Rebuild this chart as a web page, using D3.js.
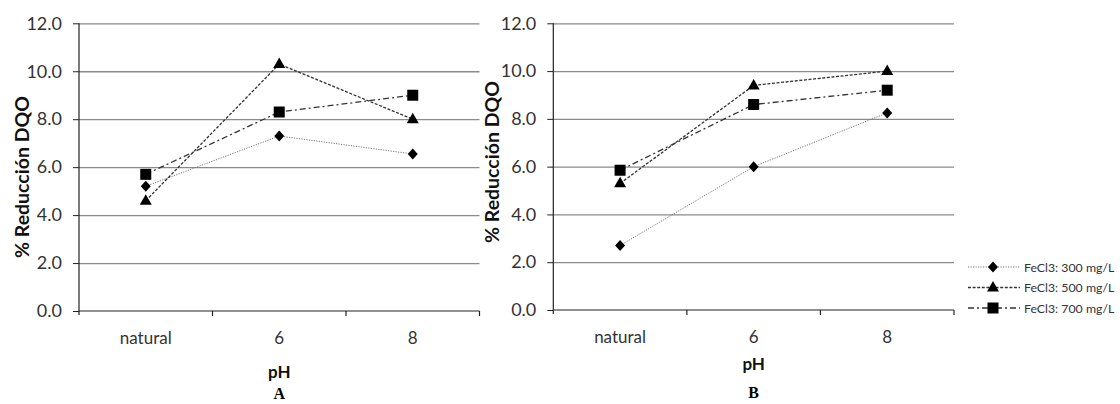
<!DOCTYPE html>
<html>
<head>
<meta charset="utf-8">
<script src="https://cdn.jsdelivr.net/npm/d3@7"></script>
<style>
  html, body { margin: 0; padding: 0; background: #fff; }
  svg { display: block; }
</style>
</head>
<body>
<svg id="chart" width="1120" height="404"></svg>
<script>
// pH conditions on the x axis
const categories = ["natural", "6", "8"];
// y axis ticks
const yTicks = [0, 2, 4, 6, 8, 10, 12];
// series labels
const seriesNames = ["FeCl3: 300 mg/L", "FeCl3: 500 mg/L", "FeCl3: 700 mg/L"];
// Panel A: % COD reduction per dose
const panelA300 = [5.2, 7.3, 6.55];
const panelA500 = [4.6, 10.3, 8.0];
const panelA700 = [5.7, 8.3, 9.0];
// Panel B: % COD reduction per dose
const panelB300 = [2.7, 6.0, 8.25];
const panelB500 = [5.3, 9.4, 10.0];
const panelB700 = [5.85, 8.6, 9.2];

const svg = d3.select("#chart");
const FONT = "Lato, 'Open Sans', sans-serif";
const TEXT = "#333";

const styles = [
  { dash: "1.2,1.3", width: 1, color: "#777", symbol: "diamond" },
  { dash: "3,1.6", width: 1.3, color: "#333", symbol: "triangle" },
  { dash: "6,3,2,3", width: 1.3, color: "#333", symbol: "square" }
];

function marker(g, type, cx, cy) {
  if (type === "diamond") {
    g.append("path").attr("d", `M${cx},${cy - 5.5}L${cx + 5},${cy}L${cx},${cy + 5.5}L${cx - 5},${cy}Z`).attr("fill", "#000");
  } else if (type === "triangle") {
    g.append("path").attr("d", `M${cx},${cy - 6.5}L${cx + 6},${cy + 4}L${cx - 6},${cy + 4}Z`).attr("fill", "#000");
  } else {
    g.append("rect").attr("x", cx - 5.5).attr("y", cy - 5.5).attr("width", 11).attr("height", 11).attr("fill", "#000");
  }
}

function panel(cfg) {
  const x = d3.scaleBand().domain(categories).range([cfg.left, cfg.right]).padding(0);
  const y = d3.scaleLinear().domain([0, 12]).range([cfg.bottom, cfg.top]);
  const g = svg.append("g");

  // horizontal gridlines
  g.append("g")
    .attr("transform", `translate(${cfg.left},0)`)
    .call(d3.axisLeft(y).tickValues(yTicks.filter(v => v > 0)).tickSize(-(cfg.right - cfg.left)).tickFormat(""))
    .call(s => s.select(".domain").remove())
    .call(s => s.selectAll("line").attr("stroke", "#8a8a8a").attr("stroke-width", 1.3));

  // y axis with outward ticks
  g.append("g")
    .attr("transform", `translate(${cfg.left},0)`)
    .call(d3.axisLeft(y).tickValues(yTicks).tickSize(6).tickPadding(11).tickFormat(d3.format(".1f")))
    .call(s => s.select(".domain").attr("d", `M0,${cfg.top}V${cfg.bottom + 4}`).attr("stroke", "#222").attr("stroke-width", 1.2))
    .call(s => s.selectAll("line").attr("stroke", "#222"))
    .call(s => s.selectAll("text").attr("font-size", 18).attr("fill", TEXT).attr("font-family", FONT));

  // x axis: labels centred in bands, ticks on band boundaries
  g.append("g")
    .attr("transform", `translate(0,${cfg.bottom})`)
    .call(d3.axisBottom(x).tickSize(0).tickPadding(21))
    .call(s => s.select(".domain").attr("d", `M${cfg.left},0H${cfg.right}`).attr("stroke", "#222").attr("stroke-width", 1.2))
    .call(s => s.selectAll("text").attr("font-size", 17).attr("fill", TEXT).attr("font-family", FONT));
  const bounds = categories.map(c => x(c)).concat([x(categories[categories.length - 1]) + x.bandwidth()]).slice(1);
  g.selectAll(".btick").data(bounds).join("line")
    .attr("x1", d => d).attr("x2", d => d)
    .attr("y1", cfg.bottom).attr("y2", cfg.bottom + 5)
    .attr("stroke", "#222").attr("stroke-width", 1.2);

  // series lines and markers
  const cx = c => x(c) + x.bandwidth() / 2;
  cfg.series.forEach((vals, i) => {
    const st = styles[i];
    const line = d3.line().x((d, j) => cx(categories[j])).y(d => y(d));
    g.append("path").datum(vals).attr("d", line)
      .attr("fill", "none").attr("stroke", st.color).attr("stroke-width", st.width)
      .attr("stroke-dasharray", st.dash);
  });
  cfg.series.forEach((vals, i) => {
    vals.forEach((v, j) => marker(g, styles[i].symbol, cx(categories[j]), y(v)));
  });

  // axis titles
  g.append("text")
    .attr("transform", `translate(${cfg.yTitleX},${cfg.yTitleY}) rotate(-90)`)
    .attr("text-anchor", "middle").attr("font-family", FONT).attr("font-weight", "bold")
    .attr("font-size", 19.5).attr("fill", "#111").text("% Reducción DQO");
  g.append("text")
    .attr("x", cx(categories[1])).attr("y", cfg.phY)
    .attr("text-anchor", "middle").attr("font-family", FONT).attr("font-weight", "bold")
    .attr("font-size", 17).attr("fill", "#111").text("pH");
  g.append("text")
    .attr("x", cx(categories[1])).attr("y", cfg.letterY)
    .attr("text-anchor", "middle").attr("font-family", "'Liberation Serif', 'Times New Roman', serif")
    .attr("font-weight", "bold").attr("font-size", 16).attr("fill", "#000").text(cfg.letter);
}

panel({ left: 79, right: 479.5, top: 23.3, bottom: 311, series: [panelA300, panelA500, panelA700],
        yTitleX: 29, yTitleY: 177, phY: 378, letterY: 399, letter: "A" });
panel({ left: 553.3, right: 954, top: 23.3, bottom: 310, series: [panelB300, panelB500, panelB700],
        yTitleX: 499, yTitleY: 162, phY: 370, letterY: 398, letter: "B" });

// legend
const legend = svg.append("g");
seriesNames.forEach((name, i) => {
  const ly = [267, 287.5, 308][i];
  const st = styles[i];
  legend.append("line").attr("x1", 968).attr("x2", 1020).attr("y1", ly).attr("y2", ly)
    .attr("stroke", st.color).attr("stroke-width", st.width).attr("stroke-dasharray", st.dash);
  marker(legend, st.symbol, 993, ly);
  legend.append("text").attr("x", 1024).attr("y", ly + 4.5)
    .attr("font-family", FONT).attr("font-size", 12.3).attr("fill", TEXT).text(name);
});
</script>
</body>
</html>
